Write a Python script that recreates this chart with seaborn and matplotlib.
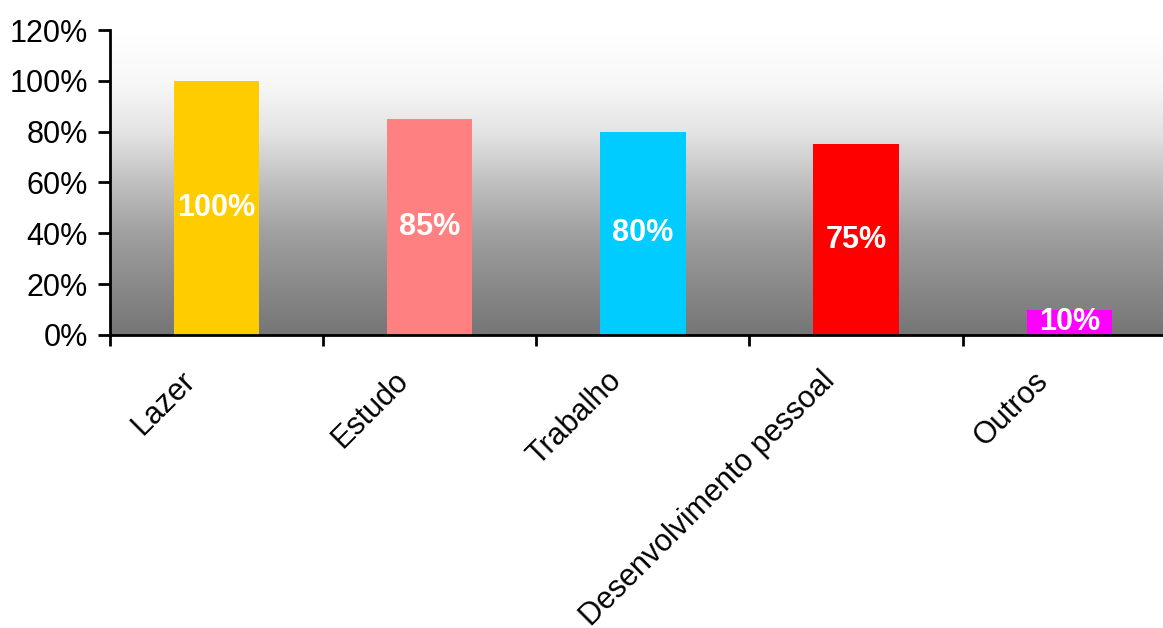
import matplotlib
matplotlib.use("Agg")
import matplotlib.pyplot as plt
import matplotlib.transforms as mtransforms
from matplotlib.colors import LinearSegmentedColormap
import seaborn as sns
import numpy as np
import pandas as pd

categories = ["Lazer", "Estudo", "Trabalho", "Desenvolvimento pessoal", "Outros"]
values = [100, 85, 80, 75, 10]
bar_colors = ["#FFCC00", "#FF8080", "#00CCFF", "#FF0000", "#FF00FF"]
y_ticks = [0, 20, 40, 60, 80, 100, 120]

sns.set_style("white")
plt.rcParams["font.family"] = ["Liberation Sans", "DejaVu Sans"]
plt.rcParams["text.color"] = "black"
plt.rcParams["xtick.color"] = "black"
plt.rcParams["ytick.color"] = "black"

df = pd.DataFrame({"cat": categories, "val": values})

fig = plt.figure(figsize=(11.63, 6.28), dpi=100)
ax = fig.add_axes([0.0946, 0.4666, 0.9054, 0.4856])

# gradient background (white at top, grey at bottom)
grad_cmap = LinearSegmentedColormap.from_list(
    "bg",
    [(0.0, "#767676"), (0.1667, "#8a8a8a"), (0.333, "#a0a0a0"), (0.5, "#c0c0c0"),
     (0.667, "#e4e4e4"), (0.833, "#f8f8f8"), (1.0, "#ffffff")])
grad = np.linspace(0, 1, 256).reshape(-1, 1)
ax.imshow(grad, cmap=grad_cmap, aspect="auto", origin="lower",
          extent=[-0.5, 4.44, 0, 120], zorder=0)

sns.barplot(data=df, x="cat", y="val", hue="cat", palette=bar_colors,
            width=0.4, saturation=1, legend=False, ax=ax, zorder=2,
            linewidth=0, edgecolor="none")

for cont, v in zip(ax.containers, values):
    ax.bar_label(cont, labels=[f"{v}%"], label_type="center", color="white",
                 fontsize=22, fontweight="bold")

ax.set_xlim(-0.5, 4.44)
ax.set_ylim(0, 120)
ax.set_yticks(y_ticks)
ax.set_yticklabels([f"{t}%" for t in y_ticks], fontsize=22)
ax.set_xlabel("")
ax.set_ylabel("")

# ticks on category boundaries, labels at centres
ax.set_xticks(np.arange(-0.5, 4.5, 1.0))
ax.set_xticklabels([])
ax.set_xticks(np.arange(len(categories)), minor=True)
ax.set_xticklabels(categories, minor=True, rotation=45, ha="right", va="top",
                   fontsize=22)
ax.tick_params(axis="x", which="minor", length=0, pad=22)
ax.tick_params(axis="x", which="major", length=8, width=2, direction="out", bottom=True)
ax.tick_params(axis="y", length=9, width=2, direction="out", left=True, pad=7)

shift = mtransforms.ScaledTranslation(-0.15, 0, fig.dpi_scale_trans)
for lbl in ax.get_xticklabels(minor=True):
    lbl.set_transform(lbl.get_transform() + shift)

for s in ["top", "right"]:
    ax.spines[s].set_visible(False)
for s in ["left", "bottom"]:
    ax.spines[s].set_color("black")
    ax.spines[s].set_linewidth(2)

fig.savefig("out.png", dpi=100)
